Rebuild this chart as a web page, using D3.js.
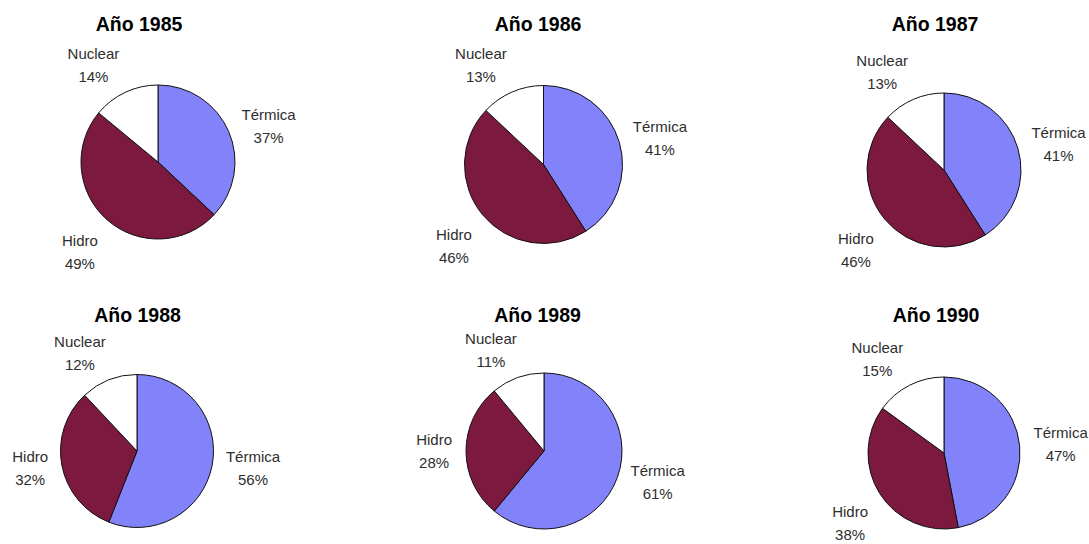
<!DOCTYPE html>
<html>
<head>
<meta charset="utf-8">
<script src="https://cdn.jsdelivr.net/npm/d3@7"></script>
<style>
  body { margin: 0; background: #fff; }
  svg { display: block; }
</style>
</head>
<body>
<svg id="chart"></svg>
<script>
// energy mix per year, percent
const years = ["1985", "1986", "1987", "1988", "1989", "1990"];
const sources = ["Térmica", "Hidro", "Nuclear"];
const termica = [37, 41, 41, 56, 61, 47];
const hidro = [49, 46, 46, 32, 28, 38];
const nuclear = [14, 13, 13, 12, 11, 15];

// panel layout (pie centre, radius, title centre)
const panels = [
    { cx: 158, cy: 162, r: 77, tx: 139, ty: 24 },
    { cx: 543.5, cy: 164.5, r: 79, tx: 538, ty: 24 },
    { cx: 944, cy: 170, r: 77, tx: 935, ty: 24 },
    { cx: 137, cy: 451, r: 76.5, tx: 137.5, ty: 315 },
    { cx: 544, cy: 451, r: 78, tx: 537.5, ty: 315 },
    { cx: 944, cy: 453, r: 76, tx: 936, ty: 315 }
];

const width = 1089;
const height = 544;
const svg = d3.select('#chart')
    .attr('width', width)
    .attr('height', height);

// dithered fills, like the old gif
const defs = svg.append('defs');
const dither = (id, base, dot) => {
    const p = defs.append('pattern')
        .attr('id', id)
        .attr('width', 2).attr('height', 2)
        .attr('patternUnits', 'userSpaceOnUse');
    p.append('rect').attr('width', 2).attr('height', 2).attr('fill', base);
    p.append('rect').attr('width', 1).attr('height', 1).attr('fill', dot);
    p.append('rect').attr('x', 1).attr('y', 1).attr('width', 1).attr('height', 1).attr('fill', dot);
};
dither('dTerm', '#8787ff', '#7d7df4');
dither('dHidro', '#821c44', '#761638');

const color = d3.scaleOrdinal()
    .domain(sources)
    .range(['url(#dTerm)', 'url(#dHidro)', '#ffffff']);

const pie = d3.pie().sort(null).value(d => d.value);

years.forEach((year, i) => {
    const p = panels[i];
    const data = [
        { name: sources[0], value: termica[i] },
        { name: sources[1], value: hidro[i] },
        { name: sources[2], value: nuclear[i] }
    ];
    const arcs = pie(data);
    const arc = d3.arc().innerRadius(0).outerRadius(p.r);

    svg.append('text')
        .attr('x', p.tx)
        .attr('y', p.ty)
        .attr('dy', '0.36em')
        .attr('text-anchor', 'middle')
        .attr('font-family', 'Liberation Sans, Arial, sans-serif')
        .attr('font-weight', 'bold')
        .attr('font-size', 19.5)
        .attr('fill', '#000')
        .text('Año ' + year);

    const g = svg.append('g')
        .attr('transform', `translate(${p.cx},${p.cy})`);

    g.selectAll('path')
        .data(arcs)
        .join('path')
        .attr('d', arc)
        .attr('fill', d => color(d.data.name))
        .attr('stroke', '#111')
        .attr('stroke-width', 1)
        .attr('stroke-linejoin', 'round');

    // labels sit just outside the slice, nudged away from the pie
    const pad = p.r + 14;
    const lab = g.selectAll('g.lab')
        .data(arcs)
        .join('g')
        .attr('class', 'lab')
        .attr('font-family', 'Liberation Sans, Arial, sans-serif')
        .attr('font-size', 15)
        .attr('fill', '#2e2e2e')
        .attr('text-anchor', 'middle');

    lab.each(function (d) {
        const a = (d.startAngle + d.endAngle) / 2;
        const s = Math.sin(a), c = Math.cos(a);
        const sel = d3.select(this);
        const t1 = sel.append('text').attr('dy', '0.35em').attr('y', -11.5).text(d.data.name);
        sel.append('text').attr('dy', '0.35em').attr('y', 11.5).text(d.data.value + '%');
        const hw = t1.node().getComputedTextLength() / 2;
        const fx = Math.max(-1, Math.min(1, s * 2.5));
        const fy = Math.max(0, Math.min(1, (Math.abs(c) - 0.4) / 0.12));
        const x = s * pad + fx * hw;
        const y = -c * pad + (c > 0 ? -14 : 22) * fy;
        sel.attr('transform', `translate(${x},${y})`);
    });
});
</script>
</body>
</html>
